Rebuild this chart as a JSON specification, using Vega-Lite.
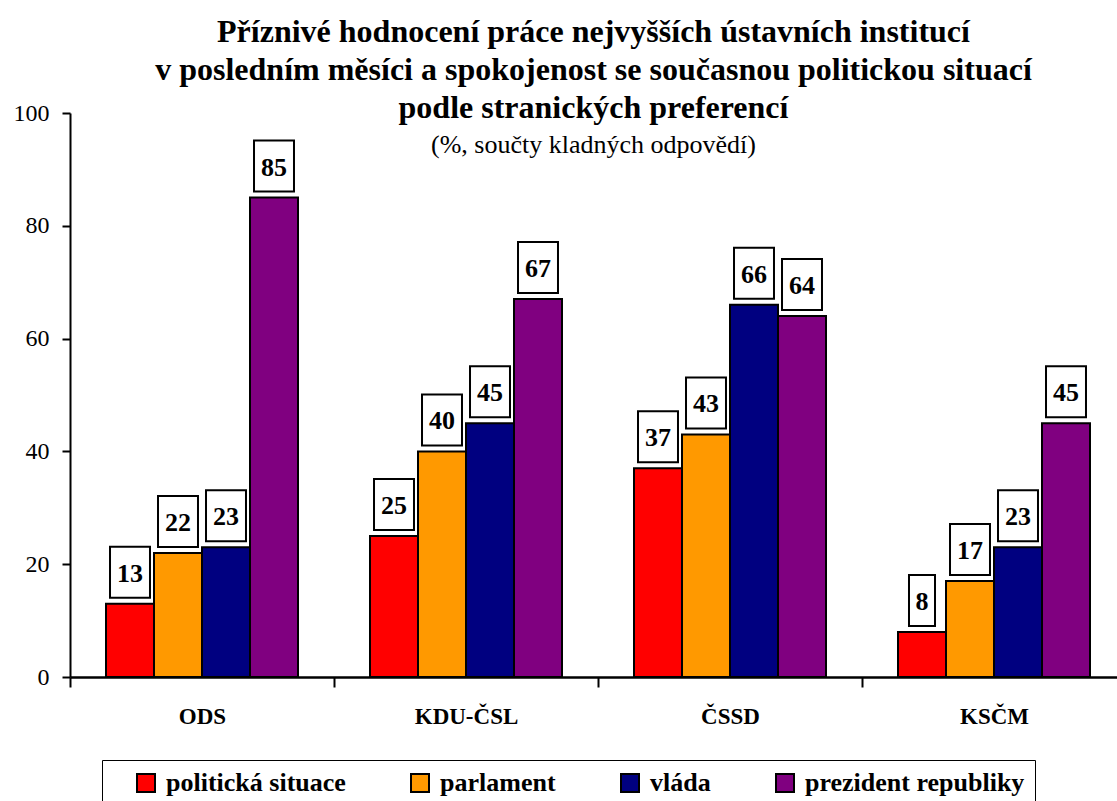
{
  "$schema": "https://vega.github.io/schema/vega-lite/v6.json",
  "autosize": {"type": "none"},
  "padding": {"left": 70, "top": 113, "right": 0, "bottom": 124},
  "width": 1047,
  "height": 564,
  "background": "white",
  "config": {
    "font": "Liberation Serif",
    "view": {"stroke": null},
    "axis": {"domainColor": "black", "tickColor": "black", "labelColor": "black"}
  },
  "title": {
    "text": ["Příznivé hodnocení práce nejvyšších ústavních institucí", "v posledním měsíci a spokojenost se současnou politickou situací", "podle stranických preferencí"],
    "subtitle": "(%, součty kladných odpovědí)",
    "font": "Liberation Serif",
    "fontSize": 32,
    "fontWeight": "bold",
    "lineHeight": 38,
    "color": "black",
    "subtitleFont": "Liberation Serif",
    "subtitleFontSize": 26,
    "subtitleColor": "black",
    "subtitlePadding": 7,
    "anchor": "middle",
    "offset": -58
  },
  "data": {
    "values": [
      {"party": "ODS", "series": "politická situace", "value": 13},
      {"party": "ODS", "series": "parlament", "value": 22},
      {"party": "ODS", "series": "vláda", "value": 23},
      {"party": "ODS", "series": "prezident republiky", "value": 85},
      {"party": "KDU-ČSL", "series": "politická situace", "value": 25},
      {"party": "KDU-ČSL", "series": "parlament", "value": 40},
      {"party": "KDU-ČSL", "series": "vláda", "value": 45},
      {"party": "KDU-ČSL", "series": "prezident republiky", "value": 67},
      {"party": "ČSSD", "series": "politická situace", "value": 37},
      {"party": "ČSSD", "series": "parlament", "value": 43},
      {"party": "ČSSD", "series": "vláda", "value": 66},
      {"party": "ČSSD", "series": "prezident republiky", "value": 64},
      {"party": "KSČM", "series": "politická situace", "value": 8},
      {"party": "KSČM", "series": "parlament", "value": 17},
      {"party": "KSČM", "series": "vláda", "value": 23},
      {"party": "KSČM", "series": "prezident republiky", "value": 45}
    ]
  },
  "encoding": {
    "x": {
      "field": "party",
      "type": "nominal",
      "sort": ["ODS", "KDU-ČSL", "ČSSD", "KSČM"],
      "scale": {"range": [0, 1056], "paddingInner": 0, "paddingOuter": 0},
      "axis": {"title": null, "labelAngle": 0, "labelFont": "Liberation Serif", "labelFontSize": 23, "labelFontWeight": "bold", "labelPadding": 18, "domainWidth": 2.5, "tickWidth": 2, "tickSize": 10, "tickBand": "extent"}
    },
    "xOffset": {
      "field": "series",
      "type": "nominal",
      "sort": ["politická situace", "parlament", "vláda", "prezident republiky"],
      "scale": {"paddingInner": 0, "paddingOuter": 0.75}
    },
    "y": {
      "field": "value",
      "type": "quantitative",
      "scale": {"domain": [0, 100], "nice": false},
      "axis": {"title": null, "values": [0, 20, 40, 60, 80, 100], "grid": false, "labelFont": "Liberation Serif", "labelFontSize": 24, "labelPadding": 13, "domainWidth": 2, "tickWidth": 2, "tickSize": 8}
    }
  },
  "layer": [
    {
      "mark": {"type": "bar", "stroke": "black", "strokeWidth": 2, "opacity": 1},
      "encoding": {
        "color": {
          "field": "series",
          "type": "nominal",
          "sort": ["politická situace", "parlament", "vláda", "prezident republiky"],
          "scale": {"domain": ["politická situace", "parlament", "vláda", "prezident republiky"], "range": ["#FF0000", "#FF9900", "#000080", "#800080"]},
          "legend": {
            "orient": "none",
            "legendX": 32,
            "legendY": 647,
            "direction": "horizontal",
            "columns": 4,
            "title": null,
            "strokeColor": "black",
            "fillColor": "white",
            "padding": 10,
            "symbolType": "square",
            "symbolSize": 324,
            "symbolStrokeColor": "black",
            "symbolStrokeWidth": 2,
            "symbolOpacity": 1,
            "symbolOffset": 21,
            "labelFont": "Liberation Serif",
            "labelFontSize": 26,
            "labelFontWeight": "bold",
            "labelColor": "black",
            "labelOffset": 7,
            "labelLimit": 400,
            "columnPadding": 40
          }
        }
      }
    },
    {
      "mark": {"type": "point", "filled": true, "fill": "white", "stroke": "black", "strokeWidth": 2, "opacity": 1, "size": 2601, "yOffset": -31.5},
      "encoding": {
        "shape": {
          "condition": {"test": "datum.value < 10", "value": "M-0.51,-1H0.51V1H-0.51Z"},
          "value": "M-0.784,-1H0.784V1H-0.784Z"
        }
      }
    },
    {
      "mark": {"type": "text", "font": "Liberation Serif", "fontSize": 26, "fontWeight": "bold", "color": "black", "baseline": "middle", "align": "center", "yOffset": -30},
      "encoding": {"text": {"field": "value", "type": "quantitative"}}
    }
  ]
}
